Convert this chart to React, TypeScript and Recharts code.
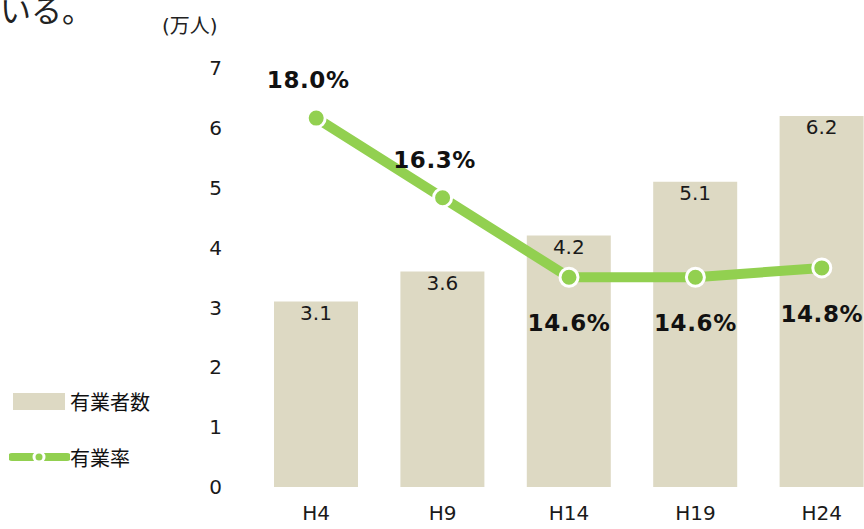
import React from "react";
import {
  ComposedChart,
  Bar,
  Line,
  XAxis,
  YAxis,
  LabelList,
} from "recharts";

const years = ["H4", "H9", "H14", "H19", "H24"];
const workers = [3.1, 3.6, 4.2, 5.1, 6.2];
const rates = [18.0, 16.3, 14.6, 14.6, 14.8];
const yTicks = [0, 1, 2, 3, 4, 5, 6, 7];

const data = years.map((name, i) => ({ name, workers: workers[i], rate: rates[i] }));

const FONT = "'DejaVu Sans', 'Noto Sans CJK JP', sans-serif";
const GREEN = "#92d050";
const BEIGE = "#ddd9c3";

const RateDot = (props: any) => {
  const { cx, cy } = props;
  if (cx == null || cy == null) return null;
  return <circle cx={cx} cy={cy} r={9} fill={GREEN} stroke="#fff" strokeWidth={3} />;
};

const RateLabel = (props: any) => {
  const { x, y, value, index } = props;
  const above = index < 2;
  return (
    <text
      x={x + (above ? -8 : 0)}
      y={y + (above ? -38 : 46)}
      textAnchor="middle"
      dominantBaseline="central"
      fontSize={23}
      letterSpacing={0.6}
      fontWeight="bold"
      fill="#111"
      fontFamily={FONT}
    >
      {Number(value).toFixed(1)}%
    </text>
  );
};

// legend drawn beside the chart, like the original
const LegendBox = () => (
  <div style={{ position: "absolute", left: 9, top: 386, fontFamily: FONT, fontSize: 20, color: "#111" }}>
    <div style={{ display: "flex", alignItems: "center", height: 30 }}>
      <span style={{ display: "inline-block", width: 52, height: 17, background: BEIGE, marginLeft: 4, marginRight: 5 }} />
      有業者数
    </div>
    <div style={{ display: "flex", alignItems: "center", height: 30, marginTop: 26 }}>
      <svg width={61} height={12}>
        <line x1={3} y1={6} x2={58} y2={6} stroke={GREEN} strokeWidth={8} strokeLinecap="round" />
        <circle cx={30} cy={6} r={6.5} fill="#fff" />
        <circle cx={30} cy={6} r={3.5} fill={GREEN} />
      </svg>
      有業率
    </div>
  </div>
);

export default function App() {
  return (
    <div style={{ position: "absolute", left: 0, top: 0, width: 864, height: 529, overflow: "hidden", background: "#fff" }}>
      <div style={{ position: "absolute", left: 0, top: -14, fontSize: 31, fontFamily: FONT, color: "#222" }}>いる。</div>
      <div style={{ position: "absolute", left: 162, top: 10, fontSize: 20, fontFamily: FONT, color: "#222" }}>(万人)</div>
      <LegendBox />
      <div style={{ position: "absolute", left: 0, top: 0 }}>
        <ComposedChart
          width={900}
          height={529}
          data={data}
          margin={{ top: 68, right: 15, left: 193, bottom: 0 }}
        >
          <XAxis
            dataKey="name"
            axisLine={false}
            tickLine={false}
            tickSize={0}
            tickMargin={19}
            height={42}
            tick={{ fill: "#1a1a1a", fontSize: 20, fontFamily: FONT }}
          />
          <YAxis
            yAxisId="left"
            domain={[0, 7]}
            ticks={yTicks}
            width={60}
            axisLine={false}
            tickLine={false}
            tickSize={0}
            tickMargin={31}
            tick={{ fill: "#1a1a1a", fontSize: 20, fontFamily: FONT }}
          />
          <YAxis yAxisId="rate" orientation="right" domain={[10.12, 19.07]} hide />
          <Bar yAxisId="left" dataKey="workers" name="有業者数" fill={BEIGE} barSize={84} isAnimationActive={false}>
            <LabelList
              dataKey="workers"
              position="insideTop"
              offset={4}
              formatter={(v: any) => Number(v).toFixed(1)}
              style={{ fill: "#1a1a1a", fontSize: 20, fontFamily: FONT }}
            />
          </Bar>
          <Line
            yAxisId="rate"
            dataKey="rate"
            name="有業率"
            stroke={GREEN}
            strokeWidth={10}
            dot={<RateDot />}
            activeDot={false}
            isAnimationActive={false}
          >
            <LabelList dataKey="rate" content={<RateLabel />} />
          </Line>
        </ComposedChart>
      </div>
    </div>
  );
}
